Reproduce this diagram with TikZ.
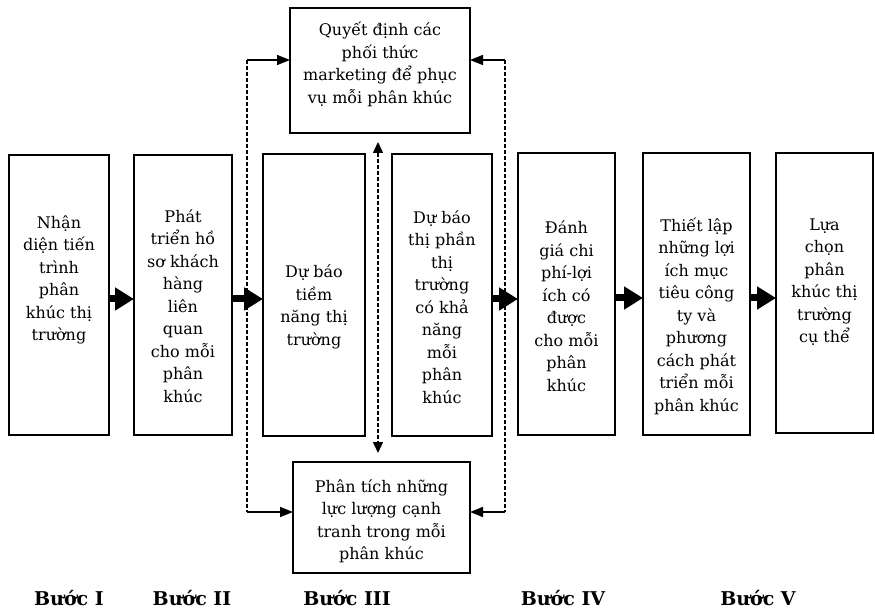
\documentclass[tikz,border=0pt]{standalone}
\usepackage{fontspec}
\setmainfont{DejaVu Serif}
\usetikzlibrary{arrows.meta}
\begin{document}
\begin{tikzpicture}[x=1pt,y=-1pt,
  box/.style={draw,line width=1.6pt,inner sep=0pt,outer sep=0pt},
  txt/.style={align=center,inner sep=0pt,font=\fontsize{16}{22.5}\selectfont},
  lbl/.style={anchor=base,inner sep=0pt,font=\fontsize{19}{22}\selectfont\bfseries},
  bigarrow/.style={line width=7pt,-{Triangle[length=19pt,width=22pt]}},
  thinarrow/.style={line width=1.5pt,-{Triangle[length=13pt,width=10pt]}},
  dashline/.style={line width=1.5pt,dash pattern=on 4pt off 2pt}]
\useasboundingbox (0,0) rectangle (875,609);
% main boxes
\node[box,minimum width=100pt,minimum height=280pt] (b1) at (59,295) {};
\node[box,minimum width=98pt,minimum height=280pt] (b2) at (183,295) {};
\node[box,minimum width=102pt,minimum height=282pt] (b3) at (314,295) {};
\node[box,minimum width=100pt,minimum height=282pt] (b4) at (442,295) {};
\node[box,minimum width=97pt,minimum height=282pt] (b5) at (566.5,294) {};
\node[box,minimum width=107pt,minimum height=282pt] (b6) at (696.5,294) {};
\node[box,minimum width=97pt,minimum height=280pt] (b7) at (824.5,293) {};
\node[box,minimum width=180pt,minimum height=125pt] (t) at (380,70.5) {};
\node[box,minimum width=177pt,minimum height=111pt] (u) at (381.5,517.5) {};
% texts
\node[txt] (x1) at (59,280) {Nhận\\diện tiến\\trình\\phân\\khúc thị\\trường};
\node[txt] (x2) at (183,306) {Phát\\triển hồ\\sơ khách\\hàng\\liên\\quan\\cho mỗi\\phân\\khúc};
\node[txt] (x3) at (314,307) {Dự báo\\tiềm\\năng thị\\trường};
\node[txt] (x4) at (442,307) {Dự báo\\thị phần\\thị\\trường\\có khả\\năng\\mỗi\\phân\\khúc};
\node[txt] (x5) at (566.5,306) {Đánh\\giá chi\\phí-lợi\\ích có\\được\\cho mỗi\\phân\\khúc};
\node[txt] (x6) at (696.5,316) {Thiết lập\\những lợi\\ích mục\\tiêu công\\ty và\\phương\\cách phát\\triển mỗi\\phân khúc};
\node[txt] (x7) at (824.5,282) {Lựa\\chọn\\phân\\khúc thị\\trường\\cụ thể};
\node[txt] (xt) at (380,64.5) {Quyết định các\\phối thức\\marketing để phục\\vụ mỗi phân khúc};
\node[txt] (xu) at (381.5,521.5) {Phân tích những\\lực lượng cạnh\\tranh trong mỗi\\phân khúc};
% thick arrows
\draw[bigarrow] (b1.east|-0,299) -- (b2.west|-0,299);
\draw[bigarrow] (b2.east|-0,299) -- (b3.west|-0,299);
\draw[bigarrow] (b4.east|-0,299) -- (b5.west|-0,299);
\draw[bigarrow] (b5.east|-0,298) -- (b6.west|-0,298);
\draw[bigarrow] (b6.east|-0,298) -- (b7.west|-0,298);
% side feedback lines
\coordinate (lt) at (247,60);
\coordinate (lb) at (247,512);
\coordinate (rt) at (505,60);
\coordinate (rb) at (505,512);
\draw[dashline] (lt) -- (lb);
\draw[dashline] (rt) -- (rb);
\draw[thinarrow] (lt) -- (t.west|-lt);
\draw[thinarrow] (lb) -- (u.west|-lb);
\draw[thinarrow] (rt) -- (t.east|-rt);
\draw[thinarrow] (rb) -- (u.east|-rb);
% middle double arrow
\coordinate (xm) at (378,0);
\draw[dashline,{Triangle[length=11pt,width=10pt]}-{Triangle[length=11pt,width=10pt]},shorten <=9pt,shorten >=9pt] (t.south-|xm) -- (u.north-|xm);
% step labels
\node[lbl] (s1) at (69,605) {Bước I};
\node[lbl] (s2) at (192,605) {Bước II};
\node[lbl] (s3) at (347,605) {Bước III};
\node[lbl] (s4) at (563,605) {Bước IV};
\node[lbl] (s5) at (758,605) {Bước V};
\end{tikzpicture}
\end{document}
